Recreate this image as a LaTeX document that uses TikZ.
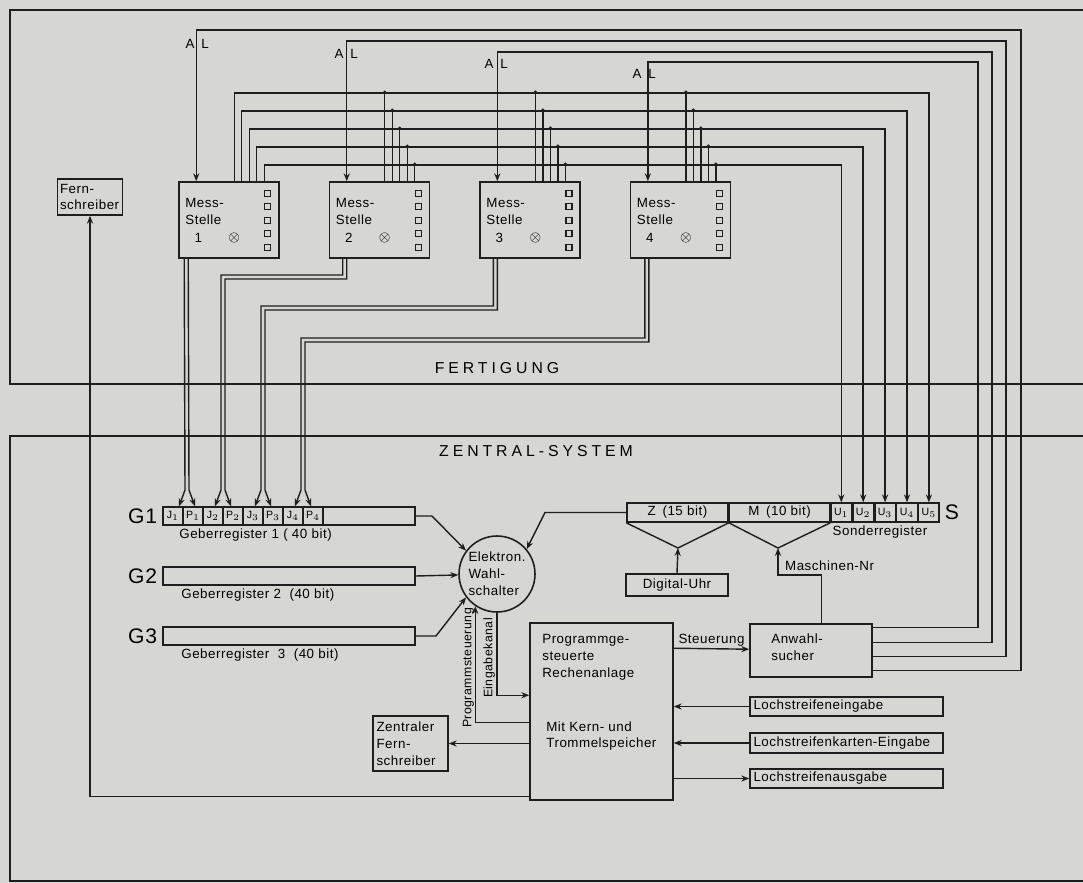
\documentclass[tikz,border=0pt]{standalone}
\usepackage{fontspec}
\setmainfont{Liberation Sans}[LetterSpace=4]
\newfontfamily\widefont[LetterSpace=25]{Liberation Sans}
\usetikzlibrary{arrows.meta, positioning, calc}
\definecolor{paper}{RGB}{214,215,210}
\definecolor{ink}{RGB}{30,30,30}
\newcommand{\lblfont}{\fontsize{7.6}{9.6}\selectfont}
\newcommand{\bigfont}{\fontsize{12}{14}\selectfont}
\tikzset{
    line/.style={draw=ink, line width=0.8pt},
    arr/.style={line, -{Stealth[length=4.5pt, width=3.5pt]}},
    frame/.style={draw=ink, line width=1.1pt},
    box/.style={draw=ink, line width=0.9pt, fill=paper, font=\lblfont, align=left, inner sep=2pt},
    reg/.style={draw=ink, line width=0.9pt, fill=paper, minimum height=0.36cm, inner sep=0pt, font=\lblfont},
    cell/.style={draw=ink, line width=0.8pt, minimum width=0.4cm, minimum height=0.36cm, inner sep=0pt, font=\fontsize{6}{7}\selectfont},
    strip/.style={box, text width=3.72cm, minimum height=0.39cm},
    lbl/.style={font=\lblfont, inner sep=1pt},
    title/.style={font=\widefont\fontsize{9}{11}\selectfont}
}

\begin{document}
\begin{tikzpicture}[x=0.02cm, y=-0.02cm]
    \fill[paper] (0,0) rectangle (1083,883);
    \useasboundingbox (0,0) rectangle (1083,883);

    % --- FRAMES ---
    \draw[frame] (1083,10) -- (10,10) -- (10,384) -- (1083,384);
    \draw[frame] (1083,436) -- (10,436) -- (10,881) -- (1083,881);
    \node[title] (fert) at (497,368) {FERTIGUNG};
    \node[title] (zent) at (536,451) {ZENTRAL-SYSTEM};

    % --- FERTIGUNG ---
    \node[box, inner sep=1.5pt, text width=1.2cm, minimum height=0.72cm] (fern) at (90,197) {Fern-\\schreiber};

    \node[box, minimum width=2cm, minimum height=1.52cm] (ms1) at (229,220) {};
    \node[box, minimum width=2cm, minimum height=1.52cm, right=0.98cm of ms1] (ms2) {};
    \node[box, minimum width=2cm, minimum height=1.52cm, right=0.98cm of ms2] (ms3) {};
    \node[box, minimum width=2cm, minimum height=1.52cm, right=0.98cm of ms3] (ms4) {};

    \foreach \m/\n in {ms1/1, ms2/2, ms3/3, ms4/4} {
        \node[lbl, align=left, anchor=west] (\m t) at ($(\m.north west)+(5,30)$) {Mess-\\Stelle};
        \node[lbl] (\m n) at ($(\m.north west)+(20,57)$) {\n};
        \node[lbl] (\m x) at ($(\m.north west)+(56,57)$) {$\otimes$};
        \foreach \k in {0,...,4}
            \draw[line, line width=0.7pt] ($(\m.north east)+(-15,9+13.5*\k)$) rectangle ++(6,6);
    }

    % --- ZENTRAL-SYSTEM ---
    \node[reg, minimum width=5.04cm] (g1) at (289,516) {};
    \node[reg, minimum width=5.04cm] (g2) at (289,576) {};
    \node[reg, minimum width=5.04cm] (g3) at (289,636) {};
    \foreach \k in {1,...,4} {
        \node[cell] (j\k) at (133+40*\k,516) {J$_{\k}$};
        \node[cell] (p\k) at (153+40*\k,516) {P$_{\k}$};
    }
    \node[lbl, font=\bigfont, anchor=east] (g1l) at ($(g1.west)+(-3,0)$) {G1};
    \node[lbl, font=\bigfont, anchor=east] (g2l) at ($(g2.west)+(-3,0)$) {G2};
    \node[lbl, font=\bigfont, anchor=east] (g3l) at ($(g3.west)+(-3,0)$) {G3};
    \node[lbl, anchor=north west] (g1t) at ($(g1.south west)+(15,1)$) {Geberregister 1 ( 40 bit)};
    \node[lbl, anchor=north west] (g2t) at ($(g2.south west)+(17,1)$) {Geberregister 2~ (40 bit)};
    \node[lbl, anchor=north west] (g3t) at ($(g3.south west)+(17,1)$) {Geberregister~ 3~ (40 bit)};

    \node[box, circle, minimum size=1.52cm, inner sep=0pt] (wahl) at (497,574) {Elektron.\\Wahl-\\schalter};

    % Sonderregister
    \node[reg, minimum width=2.02cm, minimum height=0.38cm] (z) at (677.5,512.5) {Z\enspace(15 bit)};
    \node[reg, minimum width=2cm, minimum height=0.38cm, right=0pt of z] (m) {M\enspace(10 bit)};
    \node[cell, minimum width=0.41cm, minimum height=0.38cm, right=0pt of m] (u1) {U$_1$};
    \node[cell, minimum width=0.41cm, minimum height=0.38cm, right=0pt of u1] (u2) {U$_2$};
    \node[cell, minimum width=0.41cm, minimum height=0.38cm, right=0pt of u2] (u3) {U$_3$};
    \node[cell, minimum width=0.41cm, minimum height=0.38cm, right=0pt of u3] (u4) {U$_4$};
    \node[cell, minimum width=0.41cm, minimum height=0.38cm, right=0pt of u4] (u5) {U$_5$};
    \node[lbl, font=\bigfont, anchor=west] (slbl) at ($(u5.east)+(3,0)$) {S};
    \node[lbl] (sonder) at (880,532) {Sonderregister};

    \coordinate (zapex) at (678,548);
    \coordinate (mapex) at (778,548);
    \draw[line] (z.south west) -- (zapex) -- (z.south east);
    \draw[line] (m.south west) -- (mapex) -- (m.south east);

    \node[box, minimum width=2.04cm, minimum height=0.44cm, align=center] (uhr) at (677,585) {Digital-Uhr};
    \node[lbl, anchor=west] (masch) at (783,566) {Maschinen-Nr};

    \node[box, minimum width=2.86cm, minimum height=3.54cm] (comp) at (601.5,711.5) {};
    \node[lbl, align=left, anchor=north west] (compa) at ($(comp.north west)+(11,10)$) {Programmge-\\steuerte\\Rechenanlage};
    \node[lbl, align=left, anchor=north west] (compb) at ($(comp.north west)+(15,97)$) {Mit Kern- und\\Trommelspeicher};

    \node[box, minimum width=2.44cm, minimum height=1.06cm] (anw) at (811,650.5) {};
    \node[lbl, align=left, anchor=west] (anwt) at ($(anw.west)+(20,-3)$) {Anwahl-\\sucher};

    \node[strip] (ls1) at (846.5,706.5) {Lochstreifeneingabe};
    \node[strip] (ls2) at (846.5,743) {Lochstreifenkarten-Eingabe};
    \node[strip] (ls3) at (846.5,778.5) {Lochstreifenausgabe};

    \node[box, text width=1.36cm, minimum height=1.1cm] (zfs) at (410.5,743.5) {Zentraler\\Fern-\\schreiber};

    % --- ANWAHL LINES (A|L) ---
    \draw[arr] ($(anw.north east)+(0,47)$) -| (1021,30) -| ($(ms1.north west)+(18,0)$);
    \draw[arr] ($(anw.north east)+(0,33)$) -| (1006,41) -| ($(ms2.north west)+(18,0)$);
    \draw[arr] ($(anw.north east)+(0,19)$) -| (992,52) -| ($(ms3.north west)+(18,0)$);
    \draw[arr] ($(anw.north east)+(0,4)$) -| (978,62) -| ($(ms4.north west)+(18,0)$);
    \node[lbl] (a1) at (190,44) {A}; \node[lbl] (l1) at (205,44) {L};
    \node[lbl] (a2) at (339,54) {A}; \node[lbl] (l2) at (354,54) {L};
    \node[lbl] (a3) at (489,64) {A}; \node[lbl] (l3) at (504,64) {L};
    \node[lbl] (a4) at (637,74) {A}; \node[lbl] (l4) at (652,74) {L};

    % --- STATUS LINES TO SONDERREGISTER ---
    \foreach \i/\yy/\uu in {0/93/u5, 1/111/u4, 2/129/u3, 3/147/u2, 4/165/u1} {
        \draw[arr] ($(ms1.north west)+(56+7.5*\i,0)$) |- (\uu.north |- 0,\yy) -- (\uu.north);
        \foreach \m in {ms2,ms3,ms4} {
            \draw[line] ($(\m.north west)+(56+7.5*\i,0)$) -- +(0,\yy-182);
            \fill[ink] ($(\m.north west)+(56+7.5*\i,\yy-182)$) circle (1.1pt);
        }
    }

    % --- DOUBLE LINES TO GEBERREGISTER 1 ---
    \draw[arr] ($(ms1.south west)+(6,0)$) -- (185,490) -- ($(j1.north)+(6,0)$);
    \draw[arr] ($(ms1.south west)+(10,0)$) -- (189,490) -- ($(p1.north)+(2,0)$);
    \draw[arr] ($(ms2.south west)+(14,0)$) |- (221,275) -- (221,490) -- ($(j2.north)+(2,0)$);
    \draw[arr] ($(ms2.south west)+(18,0)$) |- (225,279) -- (225,490) -- ($(p2.north)+(-2,0)$);
    \draw[arr] ($(ms3.south west)+(14,0)$) |- (261,306) -- (261,490) -- ($(j3.north)+(2,0)$);
    \draw[arr] ($(ms3.south west)+(18,0)$) |- (265,310) -- (265,490) -- ($(p3.north)+(-2,0)$);
    \draw[arr] ($(ms4.south west)+(15,0)$) |- (301,338) -- (301,490) -- ($(j4.north)+(2,0)$);
    \draw[arr] ($(ms4.south west)+(19,0)$) |- (305,342) -- (305,490) -- ($(p4.north)+(-2,0)$);

    % --- WAHLSCHALTER INPUTS ---
    \draw[arr] (g1.east) -- (432,516) -- (wahl.143);
    \draw[arr] (g2.east) -- (wahl);
    \draw[arr] (g3.east) -- (436,636) -- (wahl.217);
    \draw[arr] (z.west) -- (545,512.5) -- (wahl.40);

    \draw[arr] (uhr.north) -- (zapex);
    \draw[arr] ($(anw.north west)+(72,0)$) |- (778,575) -- (mapex);

    % --- RECHENANLAGE ---
    \draw[arr] ($(comp.north west)+(0,100)$) -| (wahl.236);
    \draw[arr] (wahl.south) |- ($(comp.north west)+(0,73)$);
    \node[lbl, font=\fontsize{7}{8}\selectfont, rotate=90, anchor=south] (progst) at (476,668) {Programmsteuerung};
    \node[lbl, font=\fontsize{7}{8}\selectfont, rotate=90, anchor=south] (eink) at (497,658) {Eingabekanal};

    \draw[arr] ($(comp.north east)+(0,26)$) -- node[lbl, above] (steu) {Steuerung} ($(anw.north west)+(0,26)$);

    \draw[arr] (ls1.west) -- (ls1.west -| comp.east);
    \draw[arr] (ls2.west) -- (ls2.west -| comp.east);
    \draw[arr] (ls3.west -| comp.east) -- (ls3.west);

    \draw[arr] (zfs.east -| comp.west) -- (zfs.east);
    \draw[arr] ($(comp.south west)+(0,-4)$) -| (fern.south);
\end{tikzpicture}
\end{document}
